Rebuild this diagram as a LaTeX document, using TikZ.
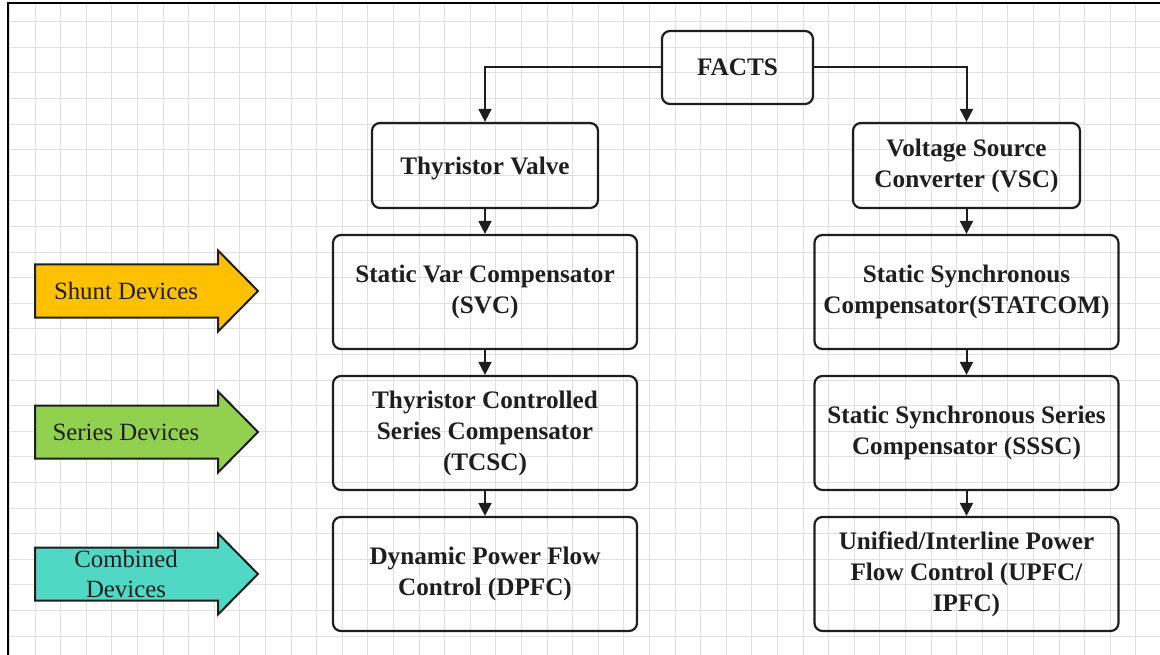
\documentclass[tikz,border=0pt]{standalone}
\usepackage{fontspec}
\setmainfont{Liberation Serif}
\usetikzlibrary{arrows.meta,positioning}

\definecolor{shuntcol}{RGB}{255,192,0}
\definecolor{seriescol}{RGB}{146,208,80}
\definecolor{combcol}{RGB}{80,216,196}
\definecolor{gridcol}{RGB}{224,224,224}
\definecolor{inkcol}{RGB}{30,30,30}

\tikzset{
  blockbox/.style={draw=inkcol, line width=2.2pt, rounded corners=8pt, align=center,
    inner sep=0pt, text=inkcol, font=\fontsize{25.2}{31}\selectfont\bfseries},
  nudged/.style={execute at begin node={\rule{0pt}{23pt}}},
  flowline/.style={draw=inkcol, line width=2pt, -{Triangle[length=13pt,width=13pt]}},
  devlabel/.style={align=center, text=inkcol, font=\fontsize{24.8}{30}\selectfont},
  devarrow/.style={draw=inkcol, line width=2pt, line join=miter}
}

\begin{document}
\begin{tikzpicture}[x=1pt, y=-1pt]
  \useasboundingbox (0,0) rectangle (1160,655);
  % background grid
  \foreach \k in {0,...,45}
    \draw[gridcol, line width=1pt] (9.4+25.6*\k,3) -- (9.4+25.6*\k,655);
  \foreach \k in {0,...,25}
    \draw[gridcol, line width=1pt] (8,21.7+25.6*\k) -- (1160,21.7+25.6*\k);
  \draw[line width=2pt] (8,655) -- (8,3) -- (1160,3);

  \node[blockbox, minimum width=151pt, minimum height=73pt] (facts) at (737.5,67.5) {FACTS};
  \node[blockbox, nudged, minimum width=226pt, minimum height=85pt] (thy) at (485,165.5) {Thyristor Valve};
  \node[blockbox, minimum width=227pt, minimum height=85pt] (vsc) at (966.5,165.5) {Voltage Source\\Converter (VSC)};

  \node[blockbox, minimum width=304pt, minimum height=114pt, below=24.8pt of thy] (svc)
    {Static Var Compensator\\(SVC)};
  \node[blockbox, minimum width=304pt, minimum height=114pt, below=24.8pt of svc] (tcsc)
    {Thyristor Controlled\\Series Compensator\\(TCSC)};
  \node[blockbox, minimum width=304pt, minimum height=114pt, below=24.8pt of tcsc] (dpfc)
    {Dynamic Power Flow\\Control (DPFC)};

  \node[blockbox, minimum width=304pt, minimum height=114pt, below=24.8pt of vsc] (statcom)
    {Static Synchronous\\Compensator(STATCOM)};
  \node[blockbox, minimum width=304pt, minimum height=114pt, below=24.8pt of statcom] (sssc)
    {Static Synchronous Series\\Compensator (SSSC)};
  \node[blockbox, minimum width=304pt, minimum height=114pt, below=24.8pt of sssc] (upfc)
    {Unified/Interline Power\\Flow Control (UPFC/\\IPFC)};

  \draw[flowline] (facts.west) -| (thy.north);
  \draw[flowline] (facts.east) -| (vsc.north);
  \draw[flowline] (thy.south) -- (svc.north);
  \draw[flowline] (svc.south) -- (tcsc.north);
  \draw[flowline] (tcsc.south) -- (dpfc.north);
  \draw[flowline] (vsc.south) -- (statcom.north);
  \draw[flowline] (statcom.south) -- (sssc.north);
  \draw[flowline] (sssc.south) -- (upfc.north);

  % device type arrows
  \foreach \y/\col/\txt [count=\i] in {291/shuntcol/Shunt Devices, 432/seriescol/Series Devices,
      574/combcol/{Combined\\Devices}} {
    \filldraw[devarrow, fill=\col] (35,\y-26.5) -- (218,\y-26.5) -- (218,\y-40.5) -- (258,\y)
      -- (218,\y+40.5) -- (218,\y+26.5) -- (35,\y+26.5) -- cycle;
    \node[devlabel] (dev\i) at (126,\y) {\txt};
  }
\end{tikzpicture}
\end{document}
